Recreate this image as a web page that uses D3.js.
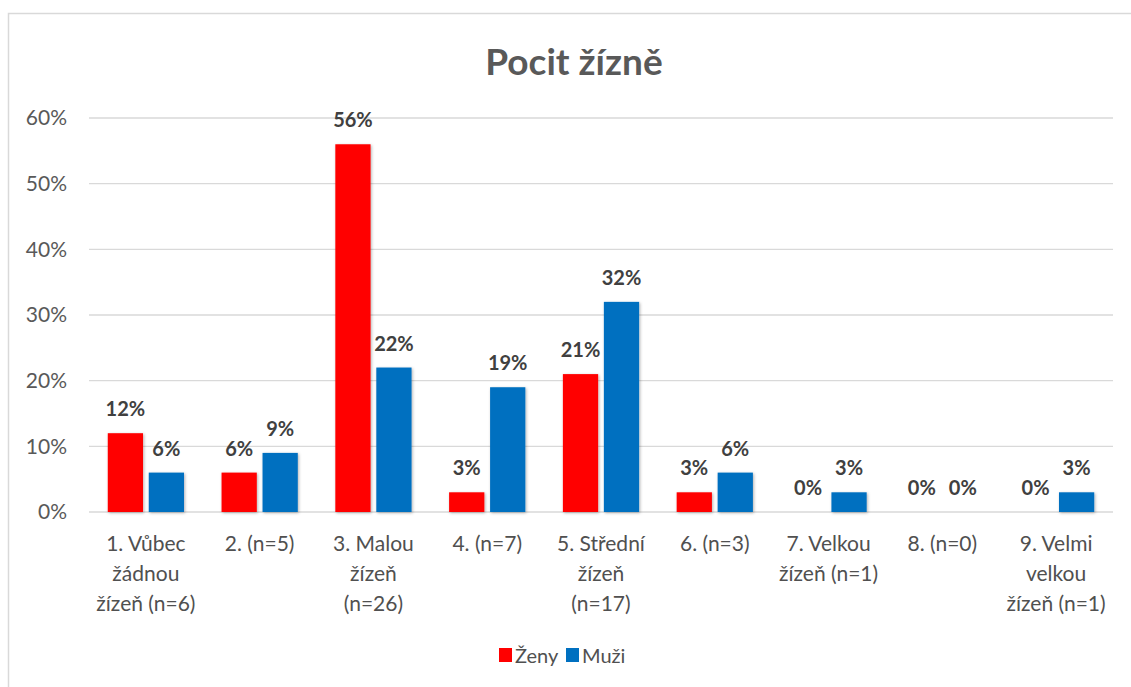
<!DOCTYPE html>
<html>
<head>
<meta charset="utf-8">
<script src="https://cdn.jsdelivr.net/npm/d3@7"></script>
<style>
  body { margin: 0; background: #fff; }
  svg text { font-family: Lato, "Open Sans", sans-serif; }
</style>
</head>
<body>
<svg id="chart"></svg>
<script>
var categories = [
  ['1. Vůbec', 'žádnou', 'žízeň (n=6)'],
  ['2. (n=5)'],
  ['3. Malou', 'žízeň', '(n=26)'],
  ['4. (n=7)'],
  ['5. Střední', 'žízeň', '(n=17)'],
  ['6. (n=3)'],
  ['7. Velkou', 'žízeň (n=1)'],
  ['8. (n=0)'],
  ['9. Velmi', 'velkou', 'žízeň (n=1)']
];
var zeny = [12, 6, 56, 3, 21, 3, 0, 0, 0];
var muzi = [6, 9, 22, 19, 32, 6, 3, 0, 3];
var seriesNames = ['Ženy', 'Muži'];
var colors = ['#ff0000', '#0070c0'];
var yTicks = [0, 10, 20, 30, 40, 50, 60];

var W = 1131, H = 687;
var svg = d3.select('#chart').attr('width', W).attr('height', H);

var defs = svg.append('defs');
var f = defs.append('filter').attr('id', 'sh').attr('x', '-20%').attr('y', '-20%').attr('width', '150%').attr('height', '150%');
f.append('feDropShadow').attr('dx', 1).attr('dy', 1).attr('stdDeviation', 1.5).attr('flood-color', '#000').attr('flood-opacity', 0.3);

// frame
svg.append('rect')
   .attr('x', 8.5).attr('y', 13.5)
   .attr('width', W).attr('height', H)
   .attr('fill', 'none').attr('stroke', '#d9d9d9').attr('stroke-width', 1.5);

var mLeft = 89, mRight = 1113, mTop = 118, mBottom = 512;

var x0 = d3.scaleBand().domain(d3.range(categories.length)).range([mLeft, mRight]).paddingInner(0.33).paddingOuter(0.165);
var x1 = d3.scaleBand().domain([0, 1]).range([0, x0.bandwidth()]).paddingInner(0.14);
var y = d3.scaleLinear().domain([0, 60]).range([mBottom, mTop]);

// gridlines
svg.append('g').selectAll('line').data(yTicks).join('line')
   .attr('x1', mLeft).attr('x2', mRight)
   .attr('y1', d => y(d)).attr('y2', d => y(d))
   .attr('stroke', '#d9d9d9').attr('stroke-width', 1.3);

// y axis
var yAxis = d3.axisLeft(y).tickValues(yTicks).tickSize(0).tickPadding(22).tickFormat(d => d + '%');
var ga = svg.append('g').attr('transform', 'translate(' + mLeft + ',0)').call(yAxis);
ga.select('.domain').remove();
ga.selectAll('text').attr('font-size', 21).attr('fill', '#595959').style('font-family', 'Lato, sans-serif');

// title
svg.append('text')
   .attr('x', 574).attr('y', 75)
   .attr('text-anchor', 'middle')
   .attr('font-size', 37).attr('font-weight', 'bold').attr('fill', '#595959')
   .text('Pocit žízně');

var data = categories.map((c, i) => [zeny[i], muzi[i]]);

var groups = svg.append('g').selectAll('g').data(data).join('g')
   .attr('transform', (d, i) => 'translate(' + x0(i) + ',0)');

groups.selectAll('rect').data(d => d).join('rect')
   .attr('x', (d, j) => x1(j))
   .attr('y', d => y(d))
   .attr('width', x1.bandwidth())
   .attr('height', d => y(0) - y(d))
   .attr('fill', (d, j) => colors[j])
   .attr('filter', d => d > 0 ? 'url(#sh)' : null);

groups.selectAll('text.val').data(d => d).join('text')
   .attr('class', 'val')
   .attr('x', (d, j) => x1(j) + x1.bandwidth() / 2)
   .attr('y', d => y(d) - 17)
   .attr('text-anchor', 'middle')
   .attr('font-size', 20).attr('font-weight', 'bold').attr('fill', '#404040')
   .text(d => d + '%');

// x axis labels
var xLabels = svg.append('g').selectAll('text').data(categories).join('text')
   .attr('x', (d, i) => x0(i) + x0.bandwidth() / 2)
   .attr('y', 551)
   .attr('text-anchor', 'middle')
   .attr('font-size', 21).attr('fill', '#505050');
xLabels.selectAll('tspan').data(d => d).join('tspan')
   .attr('x', function () { return d3.select(this.parentNode).attr('x'); })
   .attr('dy', (d, k) => k === 0 ? 0 : 30)
   .text(d => d);

// legend
var legend = svg.append('g').attr('transform', 'translate(499,655)');
var lg = legend.selectAll('g').data(seriesNames).join('g')
   .attr('transform', (d, i) => 'translate(' + (i * 67) + ',0)');
lg.append('rect').attr('x', 0).attr('y', -7).attr('width', 13).attr('height', 14)
   .attr('fill', (d, i) => colors[i]);
lg.append('text').attr('x', 16).attr('y', 8)
   .attr('font-size', 20).attr('fill', '#505050')
   .text(d => d);
</script>
</body>
</html>
